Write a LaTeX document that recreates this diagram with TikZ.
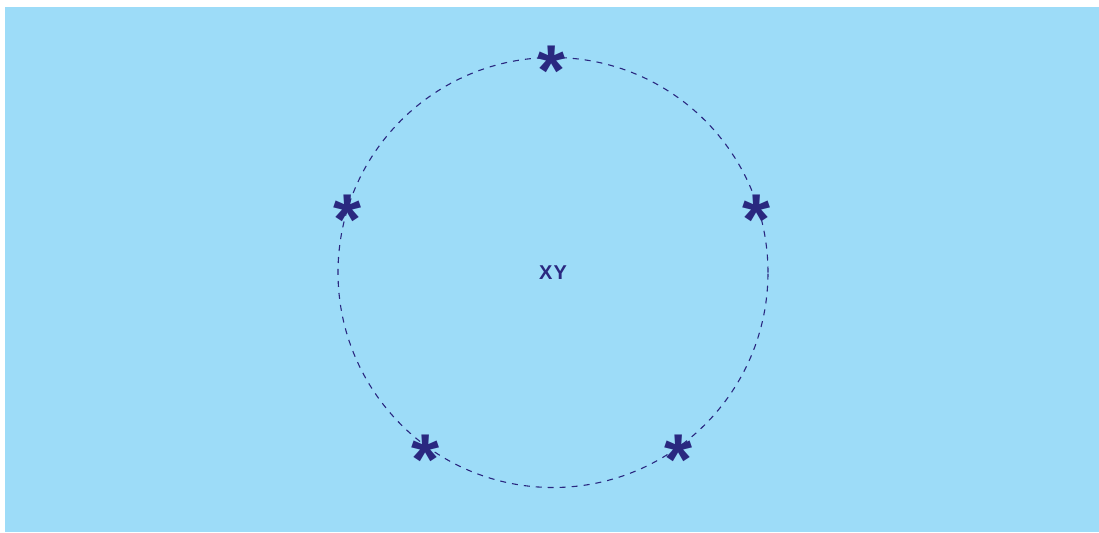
\documentclass[tikz,border=0pt]{standalone}
\usepackage{fontspec}
\setsansfont{Liberation Sans}
\usetikzlibrary{calc}
\definecolor{skyback}{RGB}{157,220,248}
\definecolor{inkblue}{RGB}{42,40,128}
\tikzset{
  ring/.style={draw=inkblue,dash pattern=on 3pt off 3pt,line width=0.55pt},
  starmark/.style={text=inkblue,font=\sffamily\bfseries\fontsize{36}{36}\selectfont,inner sep=0pt,anchor=base},
  centrelabel/.style={text=inkblue,font=\sffamily\bfseries\fontsize{10}{10}\selectfont,inner sep=0pt}
}

\begin{document}
\begin{tikzpicture}[x=0.5pt,y=-0.5pt]
  \useasboundingbox (0,0) rectangle (1099,532);
  \fill[skyback] (5,7) rectangle (1099,532);

  \coordinate (c) at (553,272.5);
  \draw[ring] (c) circle[radius=107.5pt];
  \node[centrelabel] (xy) at (c) {X\kern0.6pt Y};

  % five marks on the ring
  \foreach \a [count=\i] in {90,162,234,306,18}
    \node[starmark] (s\i) at ($(c)+(\a:107.5pt)+(-1,38)$) {*};
\end{tikzpicture}
\end{document}
